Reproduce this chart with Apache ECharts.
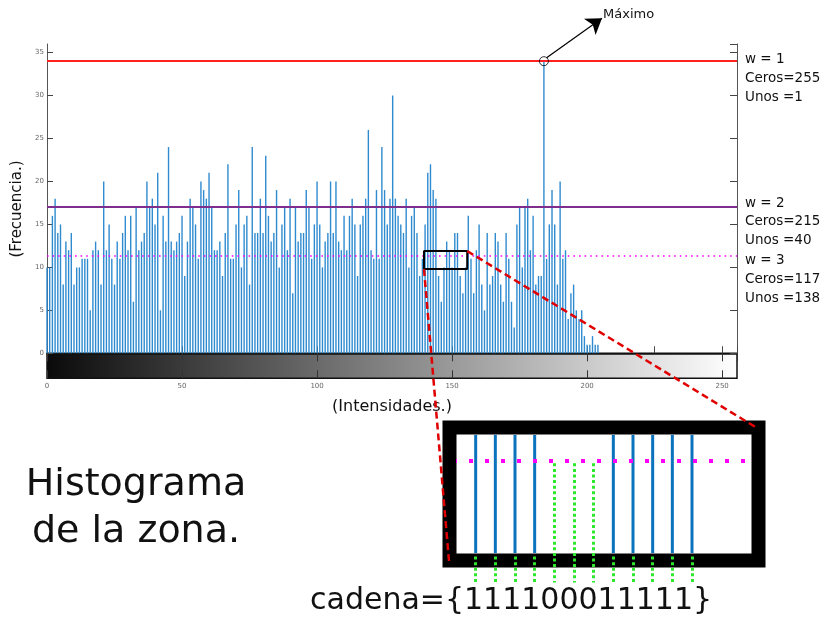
<!DOCTYPE html>
<html>
<head>
<meta charset="utf-8">
<script src="https://cdn.jsdelivr.net/npm/echarts@6/dist/echarts.min.js"></script>
<style>
html, body { margin: 0; padding: 0; background: #fff; }
#c { width: 834px; height: 617px; }
</style>
</head>
<body>
<div id="c"></div>
<script>
// Frecuencia de cada intensidad (0..204); de 205 a 255 no hay píxeles
const frecuencia = [
  10,10,16,18,14,15,8,13,12,14,
  8,10,10,11,11,11,5,12,13,12,
  8,20,12,15,11,8,13,11,14,16,
  12,16,6,17,12,13,14,20,17,18,
  15,21,5,16,13,24,13,12,13,14,
  16,9,13,18,17,15,11,20,19,18,
  21,17,12,12,13,9,14,22,11,11,
  15,19,10,15,16,8,24,14,14,18,
  14,23,16,13,14,19,10,15,17,12,
  18,7,17,13,14,14,19,17,11,15,
  20,15,10,13,14,20,14,20,13,12,
  16,12,16,18,15,9,15,16,18,26,
  12,11,19,11,24,19,15,18,30,18,
  16,15,14,18,10,16,17,14,9,11,
  15,21,22,19,18,9,6,10,13,12,
  10,14,14,9,7,10,16,11,7,12,
  15,8,5,14,8,9,14,13,8,6,
  14,11,6,3,15,17,10,17,18,12,
  16,8,9,9,34,11,15,19,15,8,
  20,11,12,4,7,8,5,4,5,2,
  1,1,2,1,1
];

// Umbrales w = 1, 2, 3 y sus conteos
const umbrales = [34, 17, 11.4];
const wValores = [1, 2, 3];
const ceros = [255, 215, 117];
const unos = [1, 40, 138];

// Zona ampliada (intensidades y frecuencias que abarca el recuadro)
const zonaIntensidad = [139.6, 155.6];
const zonaFrecuencia = [9.8, 11.9];

// Cadena binaria de la zona ampliada
const cadena = [1, 1, 1, 1, 0, 0, 0, 1, 1, 1, 1, 1];
const umbralZona = 0.78;

const FONT = 'DejaVu Sans';
const chart = echarts.init(document.getElementById('c'), null, { renderer: 'canvas' });

const fmax = Math.max(...frecuencia);
const imax = frecuencia.indexOf(fmax);

const barData = frecuencia.map((v, i) => [i, v]);
const zonaRect = [
  [zonaIntensidad[0], zonaFrecuencia[0]],
  [zonaIntensidad[0], zonaFrecuencia[1]],
  [zonaIntensidad[1], zonaFrecuencia[1]],
  [zonaIntensidad[1], zonaFrecuencia[0]],
  [zonaIntensidad[0], zonaFrecuencia[0]]
];
const cadenaUnos = [];
const verdes = [];
cadena.forEach((b, k) => {
  if (b) {
    cadenaUnos.push([k, 1]);
    verdes.push({ coords: [[k, -0.03], [k, -0.25]] });
  } else {
    verdes.push({ coords: [[k, umbralZona - 0.02], [k, -0.25]] });
  }
});

const umbralEstilos = [
  { color: '#ff2020', width: 2, type: 'solid' },
  { color: '#7e2f8e', width: 2, type: 'solid' },
  { color: '#ff00ff', width: 1.6, type: [1.6, 4] }
];

const tickLabel = { fontSize: 7, color: '#666', fontFamily: FONT };

const option = {
  animation: false,
  backgroundColor: '#fff',
  grid: [
    { left: 47, top: 44, width: 690, height: 309.3, containLabel: false },
    {
      left: 47, top: 353.3, width: 690, height: 25, show: true,
      backgroundColor: new echarts.graphic.LinearGradient(0, 0, 1, 0, [
        { offset: 0, color: '#0a0a0a' },
        { offset: 1, color: '#ffffff' }
      ]),
      borderColor: '#111', borderWidth: 1.5
    },
    { left: 456, top: 435, width: 295, height: 118, show: false }
  ],
  xAxis: [
    {
      gridIndex: 0, type: 'value', min: 0, max: 255.5, interval: 25,
      axisLine: { show: true, onZero: false, lineStyle: { color: '#111', width: 1.5 } },
      axisTick: { show: true, inside: true, length: 7, lineStyle: { color: '#444' } },
      axisLabel: { show: false }, splitLine: { show: false }
    },
    {
      gridIndex: 1, type: 'value', min: 0, max: 255.5, interval: 50, position: 'bottom',
      axisLine: { show: false },
      axisTick: { show: true, inside: true, length: 8, lineStyle: { color: '#333' } },
      axisLabel: Object.assign({ margin: 4, showMaxLabel: false }, tickLabel),
      splitLine: { show: false }
    },
    {
      gridIndex: 1, type: 'value', min: 0, max: 255.5, interval: 50, position: 'top',
      axisLine: { show: false },
      axisTick: { show: true, inside: true, length: 8, lineStyle: { color: '#333' } },
      axisLabel: { show: false }, splitLine: { show: false }
    },
    { gridIndex: 2, type: 'value', min: -1, max: 14, show: false }
  ],
  yAxis: [
    {
      gridIndex: 0, type: 'value', min: 0, max: 36, interval: 5,
      axisLine: { show: true, lineStyle: { color: '#555', width: 1 } },
      axisTick: { show: true, inside: true, length: 6, lineStyle: { color: '#444' } },
      axisLabel: Object.assign({ margin: 3, showMaxLabel: false }, tickLabel),
      splitLine: { show: false }
    },
    {
      gridIndex: 0, type: 'value', min: 0, max: 36, interval: 5, position: 'right',
      axisLine: { show: true, lineStyle: { color: '#555', width: 1 } },
      axisTick: { show: true, inside: true, length: 7, lineStyle: { color: '#444' } },
      axisLabel: { show: false }, splitLine: { show: false }
    },
    { gridIndex: 1, type: 'value', min: 0, max: 1, show: false },
    { gridIndex: 2, type: 'value', min: 0, max: 1, show: false }
  ],
  series: [
    {
      type: 'bar', xAxisIndex: 0, yAxisIndex: 0, data: barData,
      barWidth: 1.4, itemStyle: { color: '#2f8bd0' }, silent: true,
      markLine: {
        silent: true, symbol: 'none', label: { show: false },
        data: umbrales.map((u, j) => ({ yAxis: u, lineStyle: umbralEstilos[j] }))
      }
    },
    {
      type: 'line', xAxisIndex: 0, yAxisIndex: 0, data: zonaRect,
      symbol: 'none', silent: true, z: 5,
      lineStyle: { color: '#000', width: 2 }
    },
    {
      type: 'scatter', xAxisIndex: 0, yAxisIndex: 0, data: [[imax, fmax]],
      symbol: 'circle', symbolSize: 9, silent: true, z: 6,
      itemStyle: { color: 'rgba(255,255,255,0)', borderColor: '#000', borderWidth: 1 }
    },
    {
      type: 'lines', coordinateSystem: 'cartesian2d', xAxisIndex: 0, yAxisIndex: 0,
      clip: false, silent: true, z: 6,
      symbol: ['none', 'arrow'], symbolSize: 15,
      lineStyle: { color: '#000', width: 1.2, opacity: 1 },
      data: [{ coords: [[imax + 1, fmax + 0.4], [imax + 21.5, fmax + 5]] }]
    },
    {
      type: 'bar', xAxisIndex: 3, yAxisIndex: 3, data: cadenaUnos,
      barWidth: 3, itemStyle: { color: '#0b72bd' }, silent: true, z: 3,
      markLine: {
        silent: true, symbol: 'none', label: { show: false },
        data: [{ yAxis: umbralZona }],
        lineStyle: { color: '#ff00ff', width: 4, type: [4, 12], dashOffset: 3 }
      }
    },
    {
      type: 'lines', coordinateSystem: 'cartesian2d', xAxisIndex: 3, yAxisIndex: 3,
      clip: false, silent: true, z: 7,
      lineStyle: { color: '#2ee82e', width: 3, type: [3, 2.6], opacity: 1 },
      data: verdes
    }
  ]
};

chart.setOption(option);

// Recuadro del detalle, conectores y textos
const pBajo = chart.convertToPixel({ gridIndex: 0 }, [zonaIntensidad[0], zonaFrecuencia[0]]);
const pAlto = chart.convertToPixel({ gridIndex: 0 }, [zonaIntensidad[1], zonaFrecuencia[1]]);

const rotulos = [];
const gruposY = [[59, 78.3, 97.3], [203.3, 221.7, 240], [260, 279.3, 298.3]];
wValores.forEach((w, j) => {
  const textos = ['w = ' + w, 'Ceros=' + ceros[j], 'Unos =' + unos[j]];
  textos.forEach((t, r) => {
    rotulos.push({
      type: 'text', x: 745, y: gruposY[j][r], z: 20,
      style: { text: t, fontSize: 13.5, fontFamily: FONT, fill: '#111',
               align: 'left', verticalAlign: 'middle' }
    });
  });
});

const dash = { stroke: '#e00000', lineWidth: 2.5, lineDash: [7, 4] };

chart.setOption({
  graphic: { elements: [
    {
      type: 'rect', z: -1,
      shape: { x: 449.5, y: 427.5, width: 309, height: 133 },
      style: { fill: '#fff', stroke: '#000', lineWidth: 14 }
    },
    { type: 'line', z: 50, shape: { x1: pBajo[0], y1: pBajo[1], x2: 449, y2: 561 }, style: dash },
    { type: 'line', z: 50, shape: { x1: pAlto[0], y1: pAlto[1], x2: 757, y2: 428 }, style: dash },
    {
      type: 'text', x: 603, y: 15, z: 20,
      style: { text: 'Máximo', fontSize: 13, fontFamily: FONT, fill: '#111', align: 'left', verticalAlign: 'middle' }
    },
    {
      type: 'text', x: 392, y: 407, z: 20,
      style: { text: '(Intensidades.)', fontSize: 16, fontFamily: FONT, fill: '#111', align: 'center', verticalAlign: 'middle' }
    },
    {
      type: 'text', x: 17, y: 209, z: 20, rotation: Math.PI / 2,
      style: { text: '(Frecuencia.)', fontSize: 15, fontFamily: FONT, fill: '#111', align: 'center', verticalAlign: 'middle' }
    },
    {
      type: 'text', x: 136, y: 485, z: 20,
      style: { text: 'Histograma', fontSize: 38, fontFamily: FONT, fill: '#111', align: 'center', verticalAlign: 'middle' }
    },
    {
      type: 'text', x: 136, y: 532, z: 20,
      style: { text: 'de la zona.', fontSize: 38, fontFamily: FONT, fill: '#111', align: 'center', verticalAlign: 'middle' }
    },
    {
      type: 'text', x: 310, y: 601, z: 20,
      style: { text: 'cadena={' + cadena.join('') + '}', fontSize: 30, fontFamily: FONT, fill: '#111', align: 'left', verticalAlign: 'middle' }
    }
  ].concat(rotulos) }
});
</script>
</body>
</html>
